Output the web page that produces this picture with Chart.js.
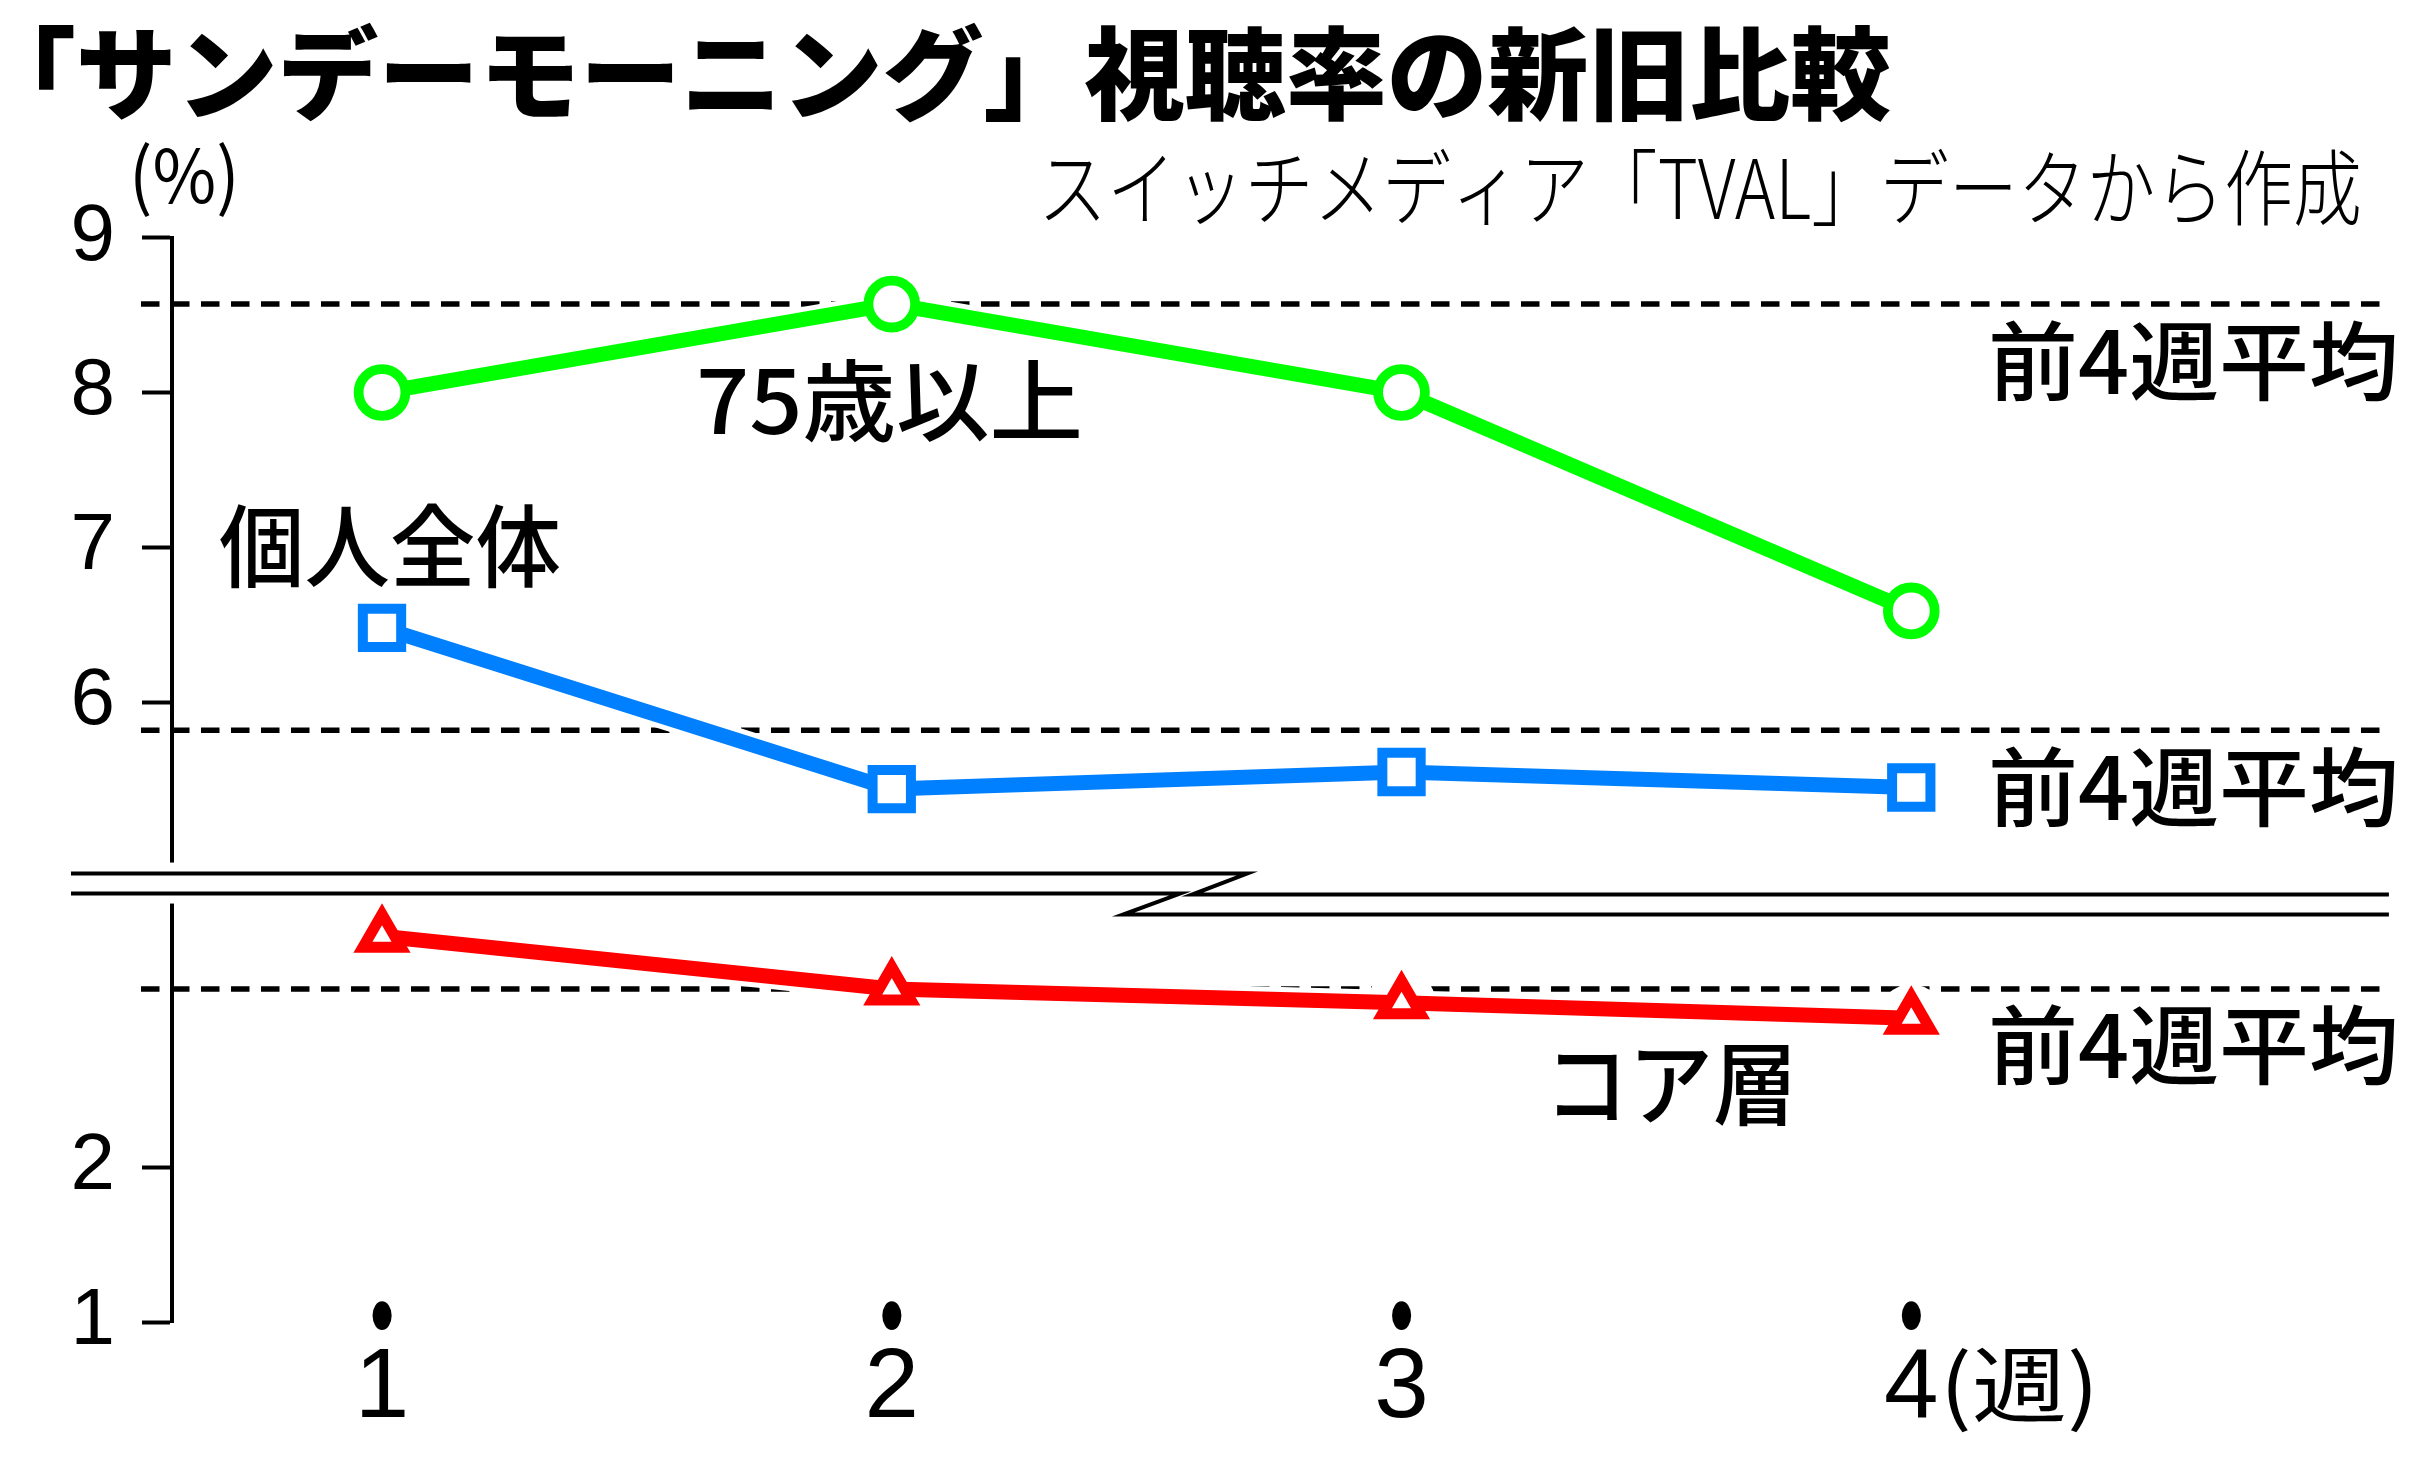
<!DOCTYPE html>
<html lang="ja">
<head>
<meta charset="utf-8">
<title>「サンデーモーニング」視聴率の新旧比較</title>
<script src="https://cdn.jsdelivr.net/npm/chart.js@4/dist/chart.umd.min.js"></script>
<style>
  html, body { margin: 0; padding: 0; background: #fff; }
  #wrap { width: 2426px; height: 1463px; position: relative; }
</style>
</head>
<body>
<div id="wrap"><canvas id="chart"></canvas></div>
<script>
// data
const weeks = [1, 2, 3, 4];
const xTickLabels = ['1', '2', '3', '4'];
const seriesNames = ['75歳以上', '個人全体', 'コア層'];
const over75 = [8.0, 8.57, 8.0, 6.59];
const allPersons = [6.48, 5.44, 5.55, 5.45];
const coreLayer = [3.49, 3.15, 3.06, 2.96];
const prev4WeekAvg = [8.57, 5.82, 3.15];
const yTickLabels = [1, 2, 6, 7, 8, 9];

const titleText = '「サンデーモーニング」視聴率の新旧比較';
const sourceText = 'スイッチメディア「TVAL」データから作成';
const avgText = '前4週平均';

// the axis is cut between 4 and 5: everything above is moved down one unit
const toAxis = v => v > 4.5 ? v - 1 : v;

const colors = ['#00ff00', '#0080ff', '#ff0000'];
const CJK = "'Noto Sans CJK JP', 'Noto Sans', sans-serif";

function points(values) {
  return weeks.map((w, i) => ({ x: w, y: toAxis(values[i]) }));
}

// draw text so its ink fills the given box [left, top, right, bottom]
function drawInBox(ctx, text, font, box) {
  ctx.save();
  ctx.font = font;
  ctx.fillStyle = '#000';
  ctx.textAlign = 'left';
  ctx.textBaseline = 'alphabetic';
  const m = ctx.measureText(text);
  const w = m.actualBoundingBoxLeft + m.actualBoundingBoxRight;
  const h = m.actualBoundingBoxAscent + m.actualBoundingBoxDescent;
  ctx.translate(box[0], box[1]);
  ctx.scale((box[2] - box[0]) / w, (box[3] - box[1]) / h);
  ctx.fillText(text, m.actualBoundingBoxLeft, m.actualBoundingBoxAscent);
  ctx.restore();
}

const overlay = {
  id: 'overlay',
  beforeDatasetsDraw(chart) {
    const { ctx, chartArea, scales: { y } } = chart;
    ctx.save();
    ctx.strokeStyle = '#000';
    ctx.lineWidth = 5.5;
    ctx.setLineDash([18.5, 11.5]);
    prev4WeekAvg.forEach(v => {
      const py = y.getPixelForValue(toAxis(v));
      ctx.beginPath();
      ctx.moveTo(chartArea.left - 31, py);
      ctx.lineTo(chartArea.right, py);
      ctx.stroke();
    });
    ctx.restore();
  },
  afterDraw(chart) {
    const { ctx, chartArea, scales: { x, y } } = chart;
    const L = chartArea.left, R = chartArea.right;

    // axis break
    const yc = y.getPixelForValue(3.83);
    const sx = x.getPixelForValue(2.65);
    const lineA = [[L - 101, yc - 10], [sx + 24, yc - 10], [sx - 31, yc + 11], [R, yc + 11]];
    const lineB = [[L - 101, yc + 10], [sx - 43, yc + 10], [sx - 100, yc + 31], [R, yc + 31]];
    ctx.save();
    ctx.fillStyle = '#fff';
    ctx.fillRect(L - 12, yc - 21, 24, 41);
    ctx.beginPath();
    lineA.forEach((p, i) => i ? ctx.lineTo(p[0], p[1]) : ctx.moveTo(p[0], p[1]));
    lineB.slice().reverse().forEach(p => ctx.lineTo(p[0], p[1]));
    ctx.closePath();
    ctx.fill();
    ctx.strokeStyle = '#000';
    ctx.lineWidth = 4;
    [lineA, lineB].forEach(line => {
      ctx.beginPath();
      line.forEach((p, i) => i ? ctx.lineTo(p[0], p[1]) : ctx.moveTo(p[0], p[1]));
      ctx.stroke();
    });
    ctx.restore();

    // dots above the week numbers
    weeks.forEach(w => {
      const px = x.getPixelForValue(w);
      drawInBox(ctx, '•', `400 60px 'Liberation Sans', sans-serif`, [px - 10, 1300, px + 10, 1330]);
    });

    // texts
    drawInBox(ctx, titleText, `900 104px ${CJK}`, [39, 22, 1890, 123]);
    drawInBox(ctx, sourceText, `300 70px ${CJK}`, [1045, 148, 2359, 226]);
    drawInBox(ctx, '(%)', `400 70px ${CJK}`, [135, 143, 234, 218]);
    drawInBox(ctx, seriesNames[0], `500 92px ${CJK}`, [700, 358, 1079, 442]);
    drawInBox(ctx, seriesNames[1], `500 92px ${CJK}`, [220, 503, 560, 589]);
    drawInBox(ctx, seriesNames[2], `500 92px ${CJK}`, [1557, 1045, 1789, 1127]);
    prev4WeekAvg.forEach(v => {
      const py = y.getPixelForValue(toAxis(v));
      drawInBox(ctx, avgText, `500 92px ${CJK}`, [1992, py + 15, 2395, py + 98]);
    });
    const p4 = x.getPixelForValue(weeks[3]);
    drawInBox(ctx, '(週)', `400 90px ${CJK}`, [p4 + 37, 1348, p4 + 180, 1433]);
  }
};

const series = [over75, allPersons, coreLayer];
const datasets = [];
series.forEach((vals, i) => {
  datasets.push({
    label: seriesNames[i],
    data: points(vals),
    borderColor: colors[i],
    borderWidth: 15,
    pointStyle: ['circle', 'rect', 'triangle'][i],
    pointRadius: [23.4, 27.1, 22][i],
    pointBorderWidth: [9.8, 10, 11][i],
    pointBorderColor: colors[i],
    pointBackgroundColor: '#fff',
    order: 0
  });
});
// white halo under each line, cutting the dashed lines like the print does
series.forEach((vals, i) => {
  datasets.push({
    label: seriesNames[i] + ' halo',
    data: points(vals),
    borderColor: '#fff',
    borderWidth: 25,
    pointRadius: 34,
    pointBorderWidth: 0,
    pointBackgroundColor: '#fff',
    order: 5
  });
});

new Chart(document.getElementById('chart'), {
  type: 'line',
  data: { datasets: datasets },
  plugins: [overlay],
  options: {
    responsive: true,
    maintainAspectRatio: false,
    devicePixelRatio: 1,
    animation: false,
    layout: { padding: { top: 237.5, right: 26, bottom: 0, left: 0 } },
    plugins: {
      legend: { display: false },
      tooltip: { enabled: false },
      title: { display: false }
    },
    scales: {
      x: {
        type: 'linear',
        min: 0.588,
        max: 4.937,
        afterBuildTicks: s => { s.ticks = weeks.map(v => ({ value: v })); },
        afterFit: s => { s.height = 141; },
        grid: { display: false, drawTicks: false },
        border: { display: false },
        ticks: {
          color: '#000',
          maxRotation: 0,
          autoSkip: false,
          padding: 30.5,
          font: { family: "'Liberation Sans', Arial, sans-serif", size: 98, lineHeight: '75px' },
          callback: (v) => xTickLabels[weeks.indexOf(v)]
        }
      },
      y: {
        min: 1,
        max: 8,
        afterBuildTicks: s => { s.ticks = yTickLabels.map(v => ({ value: toAxis(v) })); },
        afterFit: s => { s.width = 172; },
        grid: {
          drawOnChartArea: false,
          drawTicks: true,
          tickLength: 30,
          tickWidth: 4,
          tickColor: '#000'
        },
        border: { display: true, color: '#000', width: 4 },
        ticks: {
          color: '#000',
          padding: 27,
          autoSkip: false,
          font: { family: "'Liberation Sans', Arial, sans-serif", size: 80 },
          callback: (v) => {
            const i = yTickLabels.findIndex(t => toAxis(t) === v);
            return i < 0 ? '' : String(yTickLabels[i]);
          }
        }
      }
    }
  }
});
</script>
</body>
</html>
